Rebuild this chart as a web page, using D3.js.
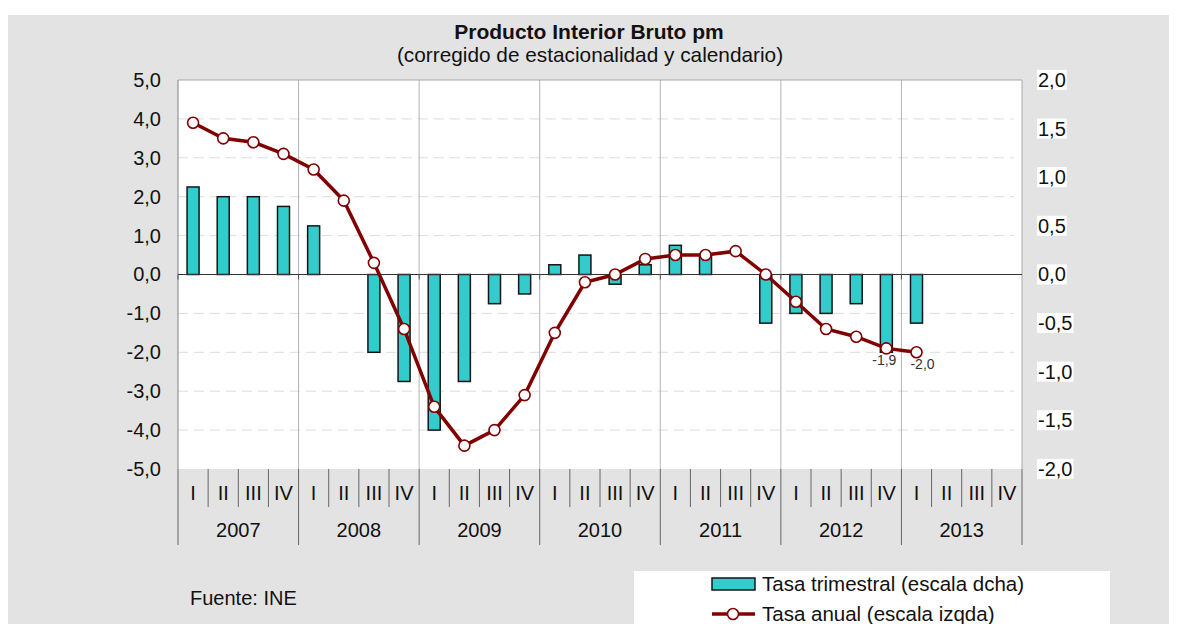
<!DOCTYPE html>
<html>
<head>
<meta charset="utf-8">
<script src="https://cdn.jsdelivr.net/npm/d3@7"></script>
<style>
  body { margin: 0; background: #fff; }
  text { font-family: "Liberation Sans", Arial, sans-serif; fill: #111; }
</style>
</head>
<body>
<svg id="chart" width="1181" height="624"></svg>
<script>
// PIB pm, corregido de estacionalidad y calendario

var years = ["2007", "2008", "2009", "2010", "2011", "2012", "2013"]
var quarters = ["I", "II", "III", "IV"]

// tasa trimestral (escala dcha), 2007 I .. 2013 I
var tasaTrimestral = [0.9, 0.8, 0.8, 0.7,
                      0.5, 0.0, -0.8, -1.1,
                      -1.6, -1.1, -0.3, -0.2,
                      0.1, 0.2, -0.1, 0.1,
                      0.3, 0.2, 0.0, -0.5,
                      -0.4, -0.4, -0.3, -0.8,
                      -0.5]
// tasa anual (escala izqda)
var tasaAnual = [3.9, 3.5, 3.4, 3.1,
                 2.7, 1.9, 0.3, -1.4,
                 -3.4, -4.4, -4.0, -3.1,
                 -1.5, -0.2, 0.0, 0.4,
                 0.5, 0.5, 0.6, 0.0,
                 -0.7, -1.4, -1.6, -1.9,
                 -2.0]
var ticksIzq = [-5, -4, -3, -2, -1, 0, 1, 2, 3, 4, 5]
var ticksDcha = [-2, -1.5, -1, -0.5, 0, 0.5, 1, 1.5, 2]
var etiquetas = [23, 24]   // puntos con etiqueta de dato

var cats = []
years.forEach(function(y) { quarters.forEach(function(q) { cats.push(y + "-" + q) }) })

var es = d3.formatLocale({decimal: ",", thousands: ".", grouping: [3], currency: ["", " €"], minus: "-"})
var f1 = es.format(".1f")

var svg = d3.select("#chart")
var pLeft = 178, pRight = 1022, pTop = 80, pBottom = 469

var x = d3.scaleBand().domain(cats).range([pLeft, pRight])
var yL = d3.scaleLinear().domain([-5, 5]).range([pBottom, pTop])
var yR = d3.scaleLinear().domain([-2, 2]).range([pBottom, pTop])
var bw = x.bandwidth()

// fondo
svg.append("rect").attr("x", 8).attr("y", 15).attr("width", 1161).attr("height", 609).attr("fill", "#e3e3e3")
svg.append("rect").attr("x", pLeft).attr("y", pTop).attr("width", pRight - pLeft).attr("height", pBottom - pTop).attr("fill", "#fff")

// titulo
svg.append("text").attr("x", 589).attr("y", 39).attr("text-anchor", "middle")
    .style("font-size", "21px").style("font-weight", "bold").text("Producto Interior Bruto pm")
svg.append("text").attr("x", 590).attr("y", 62).attr("text-anchor", "middle")
    .style("font-size", "20.8px").text("(corregido de estacionalidad y calendario)")

// rejilla horizontal
svg.append("g").selectAll("line")
    .data(ticksIzq.filter(function(d) { return d != 0 && Math.abs(d) != 5 }))
    .join("line")
    .attr("x1", pLeft).attr("x2", pRight - 8)
    .attr("y1", function(d) { return yL(d) }).attr("y2", function(d) { return yL(d) })
    .attr("stroke", "#dcdcdc").attr("stroke-dasharray", "10,6")

// separadores de años en el area
svg.append("g").selectAll("line")
    .data(years.slice(1))
    .join("line")
    .attr("x1", function(d) { return x(d + "-I") }).attr("x2", function(d) { return x(d + "-I") })
    .attr("y1", pTop).attr("y2", pBottom)
    .attr("stroke", "#b4b4b4")

// borde
svg.append("path")
    .attr("d", "M" + pLeft + "," + pTop + "H" + pRight + "V" + pBottom)
    .attr("fill", "none").attr("stroke", "#a8a8a8")
svg.append("line").attr("x1", pLeft).attr("x2", pLeft).attr("y1", pTop).attr("y2", pBottom).attr("stroke", "#808080")

// barras
svg.append("g").selectAll("rect")
    .data(tasaTrimestral)
    .join("rect")
    .attr("x", function(d, i) { return x(cats[i]) + (bw - 12) / 2 })
    .attr("y", function(d) { return Math.min(yR(d), yR(0)) })
    .attr("width", 12)
    .attr("height", function(d) { return Math.abs(yR(d) - yR(0)) })
    .attr("fill", "#33cccc").attr("stroke", "#151515").attr("stroke-width", 1.5)

// linea del cero
svg.append("line").attr("x1", pLeft).attr("x2", pRight).attr("y1", yL(0)).attr("y2", yL(0))
    .attr("stroke", "#333").attr("stroke-width", 1.2)
svg.append("g").selectAll("line")
    .data(years)
    .join("line")
    .attr("x1", function(d) { return x(d + "-I") }).attr("x2", function(d) { return x(d + "-I") })
    .attr("y1", yL(0)).attr("y2", yL(0) + 5)
    .attr("stroke", "#555")

// linea tasa anual
var line = d3.line()
    .x(function(d, i) { return x(cats[i]) + bw / 2 })
    .y(function(d) { return yL(d) })
svg.append("path").datum(tasaAnual)
    .attr("d", line)
    .attr("fill", "none").attr("stroke", "#800000").attr("stroke-width", 3.5)
svg.append("g").selectAll("circle")
    .data(tasaAnual)
    .join("circle")
    .attr("cx", function(d, i) { return x(cats[i]) + bw / 2 })
    .attr("cy", function(d) { return yL(d) })
    .attr("r", 5.5)
    .attr("fill", "#fff").attr("stroke", "#800000").attr("stroke-width", 1.6)

svg.append("g").selectAll("text")
    .data(etiquetas)
    .join("text")
    .attr("x", function(i, k) { return x(cats[i]) + bw / 2 + (k == 0 ? -2 : 6) })
    .attr("y", function(i) { return yL(tasaAnual[i]) + 17 })
    .attr("text-anchor", "middle")
    .style("font-size", "14px").style("fill", "#333")
    .text(function(i) { return f1(tasaAnual[i]) })

// eje izquierdo
var gL = svg.append("g").attr("transform", "translate(" + (pLeft - 17) + ",0)")
    .call(d3.axisLeft(yL).tickValues(ticksIzq).tickFormat(f1).tickSize(0))
gL.select(".domain").remove()
gL.selectAll("text").style("font-size", "20px").attr("x", 0).style("fill", "#111")

// eje derecho, etiquetas sobre blanco
var gR = svg.append("g").attr("transform", "translate(1038,0)")
    .call(d3.axisRight(yR).tickValues(ticksDcha).tickFormat(f1).tickSize(0))
gR.select(".domain").remove()
gR.selectAll("text").style("font-size", "20px").attr("x", 0).style("fill", "#111")
gR.selectAll(".tick").each(function() {
    var t = d3.select(this).select("text")
    var b = t.node().getBBox()
    d3.select(this).insert("rect", "text")
        .attr("x", b.x - 1).attr("y", b.y + 1).attr("width", b.width + 2).attr("height", b.height - 2)
        .attr("fill", "#fff")
})

// eje de categorias
var gX = svg.append("g")
gX.selectAll("line.q")
    .data(cats)
    .join("line")
    .attr("class", "q")
    .attr("x1", function(d) { return x(d) }).attr("x2", function(d) { return x(d) })
    .attr("y1", pBottom)
    .attr("y2", function(d) { return d.slice(-2) == "-I" ? 545 : 507 })
    .attr("stroke", "#666")
gX.append("line").attr("x1", pRight).attr("x2", pRight).attr("y1", pBottom).attr("y2", 545).attr("stroke", "#666")
gX.selectAll("text.q")
    .data(cats)
    .join("text")
    .attr("class", "q")
    .attr("x", function(d) { return x(d) + bw / 2 })
    .attr("y", 500)
    .attr("text-anchor", "middle")
    .style("font-size", "20px")
    .text(function(d) { return d.split("-")[1] })
gX.selectAll("text.y")
    .data(years)
    .join("text")
    .attr("class", "y")
    .attr("x", function(d) { return x(d + "-I") + bw * 2 })
    .attr("y", 537)
    .attr("text-anchor", "middle")
    .style("font-size", "20px")
    .text(function(d) { return d })

// fuente
svg.append("text").attr("x", 190).attr("y", 605).style("font-size", "20px").text("Fuente: INE")

// leyenda
var lg = svg.append("g")
lg.append("rect").attr("x", 634).attr("y", 571).attr("width", 476).attr("height", 60).attr("fill", "#fff")
lg.append("rect").attr("x", 712).attr("y", 578).attr("width", 43).attr("height", 12)
    .attr("fill", "#33cccc").attr("stroke", "#151515").attr("stroke-width", 1.5)
lg.append("text").attr("x", 762).attr("y", 591).style("font-size", "20.5px").text("Tasa trimestral (escala dcha)")
lg.append("line").attr("x1", 712).attr("x2", 755).attr("y1", 614).attr("y2", 614)
    .attr("stroke", "#800000").attr("stroke-width", 3.5)
lg.append("circle").attr("cx", 733).attr("cy", 614).attr("r", 5.5)
    .attr("fill", "#fff").attr("stroke", "#800000").attr("stroke-width", 1.6)
lg.append("text").attr("x", 762).attr("y", 621).style("font-size", "20.5px").text("Tasa anual (escala izqda)")
</script>
</body>
</html>
